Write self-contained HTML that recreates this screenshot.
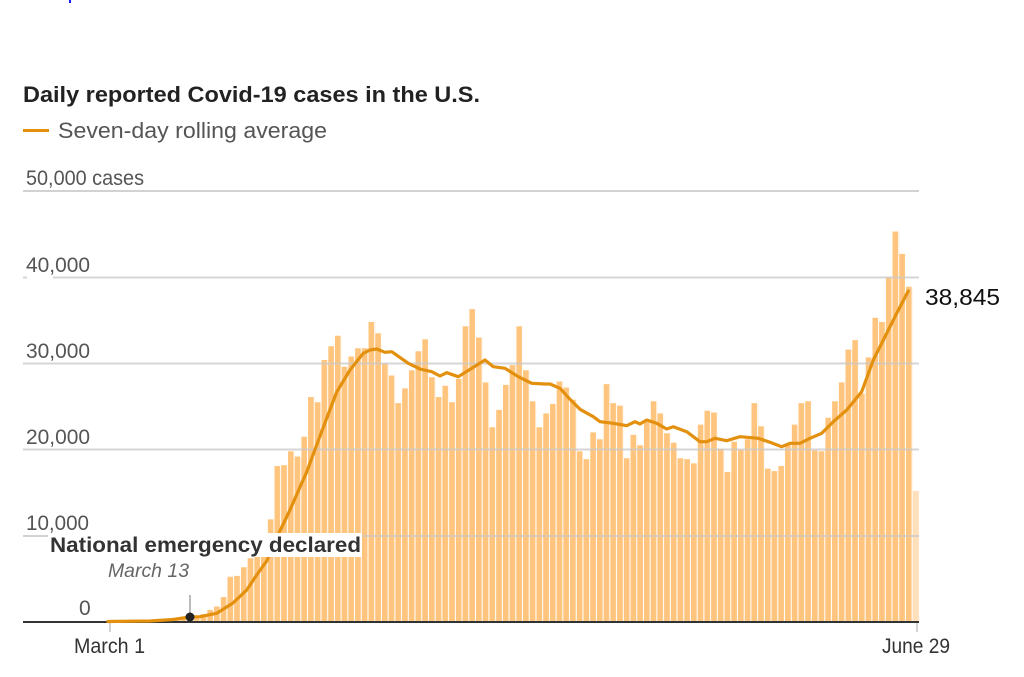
<!DOCTYPE html>
<html>
<head>
<meta charset="utf-8">
<style>
  html, body { margin: 0; padding: 0; background: #fff; }
  svg { display: block; }
  text { font-family: "Liberation Sans", "DejaVu Sans", sans-serif; }
</style>
</head>
<body>
<svg width="1024" height="677" viewBox="0 0 1024 677" xmlns="http://www.w3.org/2000/svg">
  <defs>
    <pattern id="gaps" x="106.5" y="0" width="6.718" height="700" patternUnits="userSpaceOnUse">
      <rect x="5.7" y="0" width="1.018" height="700" fill="#fff"/>
    </pattern>
  </defs>
  <rect x="0" y="0" width="1024" height="677" fill="#fff"/>
  <rect x="69" y="0" width="2" height="3" fill="#1a1aff"/>

  <text x="23" y="102" font-size="22" font-weight="bold" fill="#222" textLength="457" lengthAdjust="spacingAndGlyphs">Daily reported Covid-19 cases in the U.S.</text>
  <rect x="23" y="129" width="26" height="3" fill="#e3900f"/>
  <text x="58" y="138" font-size="22" fill="#555" textLength="269" lengthAdjust="spacingAndGlyphs">Seven-day rolling average</text>

  <text x="26" y="185" font-size="21" fill="#555" textLength="118" lengthAdjust="spacingAndGlyphs">50,000 cases</text>
  <text x="26" y="272" font-size="21" fill="#555" textLength="64" lengthAdjust="spacingAndGlyphs">40,000</text>
  <text x="26" y="358" font-size="21" fill="#555" textLength="64" lengthAdjust="spacingAndGlyphs">30,000</text>
  <text x="26" y="444" font-size="21" fill="#555" textLength="64" lengthAdjust="spacingAndGlyphs">20,000</text>
  <text x="26" y="530" font-size="21" fill="#555" textLength="63" lengthAdjust="spacingAndGlyphs">10,000</text>
  <text x="79" y="615" font-size="21" fill="#555">0</text>

  <rect x="23" y="190" width="896" height="2" fill="#d2d2d2"/>
  <rect x="23" y="535" width="30" height="2" fill="#d2d2d2"/>

  <path fill="#ffc57e" d="M106.5 622 V621.8 H113.2 V621.7 H119.9 V621.7 H126.7 V621.6 H133.4 V621.5 H140.1 V621.3 H146.8 V621.1 H153.5 V621 H160.2 V620.7 H167 V620.3 H173.7 V619.4 H180.4 V618.6 H187.1 V617.7 H193.8 V616.8 H200.6 V614.2 H207.3 V609.9 H214 V606.5 H220.7 V597 H227.4 V576.7 H234.1 V575.9 H240.9 V567.3 H247.6 V558.2 H254.3 V548.7 H261 V540.1 H267.7 V519.4 H274.5 V466 H281.2 V465.1 H287.9 V451.3 H294.6 V456.5 H301.3 V436.7 H308 V397 H314.8 V402.2 H321.5 V360 H328.2 V346.2 H334.9 V335.8 H341.6 V366.8 H348.3 V356.5 H355.1 V348.3 H361.8 V348.3 H368.5 V322 H375.2 V333.2 H381.9 V363.4 H388.7 V375.5 H395.4 V403.1 H402.1 V388.4 H408.8 V370.3 H415.5 V351.3 H422.2 V339.3 H429 V377.2 H435.7 V397 H442.4 V385.8 H449.1 V402.2 H455.8 V378.9 H462.6 V326.3 H469.3 V309.1 H476 V337.5 H482.7 V382.4 H489.4 V427.2 H496.1 V409.9 H502.9 V384.9 H509.6 V365.1 H516.3 V326.3 H523 V370.3 H529.7 V401.3 H536.5 V427.2 H543.2 V413.4 H549.9 V403.9 H556.6 V381.5 H563.3 V387.5 H570 V399.6 H576.8 V451.3 H583.5 V459.1 H590.2 V432.4 H596.9 V439.3 H603.6 V384.1 H610.4 V403.1 H617.1 V405.6 H623.8 V458.2 H630.5 V434.9 H637.2 V445.3 H643.9 V422 H650.7 V401.3 H657.4 V413.4 H664.1 V433.2 H670.8 V442.7 H677.5 V458.2 H684.3 V459.1 H691 V463.4 H697.7 V424.6 H704.4 V410.8 H711.1 V412.5 H717.8 V448.7 H724.6 V472 H731.3 V441.8 H738 V449.6 H744.7 V439.3 H751.4 V403.1 H758.2 V426.3 H764.9 V468.6 H771.6 V471.1 H778.3 V466 H785 V443.6 H791.7 V424.6 H798.5 V403.1 H805.2 V401.3 H811.9 V450.5 H818.6 V451.3 H825.3 V417.7 H832.1 V401.3 H838.8 V382.4 H845.5 V349.6 H852.2 V340.1 H858.9 V393.6 H865.6 V357.4 H872.4 V317.7 H879.1 V322 H885.8 V277.2 H892.5 V231.5 H899.2 V253.9 H906 V286.7 H912.7 V622 Z"/>
  <rect x="106.5" y="200" width="806.2" height="422" fill="url(#gaps)"/>
  <rect x="912.7" y="491" width="6.2" height="131" fill="#ffe0bb"/>

  <g fill="#c8c8c8" fill-opacity="0.75">
    <rect x="53" y="276.5" width="866" height="2"/>
    <rect x="23" y="276.5" width="4" height="2"/>
    <rect x="23" y="362.5" width="896" height="2"/>
    <rect x="23" y="448.5" width="896" height="2"/>
    <rect x="53" y="535" width="866" height="2"/>
  </g>

  <rect x="23" y="621" width="896" height="2" fill="#333"/>
  <rect x="109.5" y="623" width="1" height="9" fill="#aaa"/>
  <rect x="916.5" y="623" width="1" height="9" fill="#aaa"/>

  <polyline fill="none" stroke="#e3900f" stroke-width="3.2" stroke-linejoin="round" stroke-linecap="round"
    points="108,621.5 150,621 173,619.5 190,617 200,616.7 216.7,613.3 233,603 246.7,590 256.7,575 266.7,561 278,535 290,510 300,487 306.7,472 320,436 336.7,392 350,370 363.3,353.3 370,350 376.7,349 385,352.3 391.7,351.7 408.3,363.3 420,369 431.7,371.7 440,376 446.7,372.7 458.3,376.7 471.7,368.3 485,360 493.3,366.7 505,368.3 518.3,376.7 531.7,383.3 545,384 550,384 560,388.3 570,399.3 580,409.3 593.3,416.7 600,421.7 613.3,423.3 626.7,425.7 635,421.7 640,424 646.7,420 656.7,423.3 666.7,429 673.3,426.7 686.7,431.7 700,441.7 706.7,441.7 715,438.3 726.7,440.7 740,436.7 758.3,438.3 770,442.3 781.7,446.7 790,443.3 800,443.3 810,438.3 821.7,433.3 833.3,421.7 846.7,410 861.7,391.7 873.3,360 886.7,333.3 896.7,313.3 908.3,291"/>

  <rect x="48" y="533" width="314" height="24" fill="#fff"/>
  <text x="50" y="552" font-size="21" font-weight="bold" fill="#333" textLength="311" lengthAdjust="spacingAndGlyphs">National emergency declared</text>
  <text x="108" y="577" font-size="19" font-style="italic" fill="#666" textLength="81" lengthAdjust="spacingAndGlyphs">March 13</text>
  <rect x="189.5" y="595" width="1" height="18" fill="#777"/>
  <circle cx="190" cy="617" r="4.5" fill="#222"/>

  <text x="74" y="653" font-size="21" fill="#333" textLength="71" lengthAdjust="spacingAndGlyphs">March 1</text>
  <text x="882" y="653" font-size="21" fill="#333" textLength="68" lengthAdjust="spacingAndGlyphs">June 29</text>

  <text x="925" y="305" font-size="23" fill="#111" textLength="75" lengthAdjust="spacingAndGlyphs">38,845</text>
</svg>
</body>
</html>
